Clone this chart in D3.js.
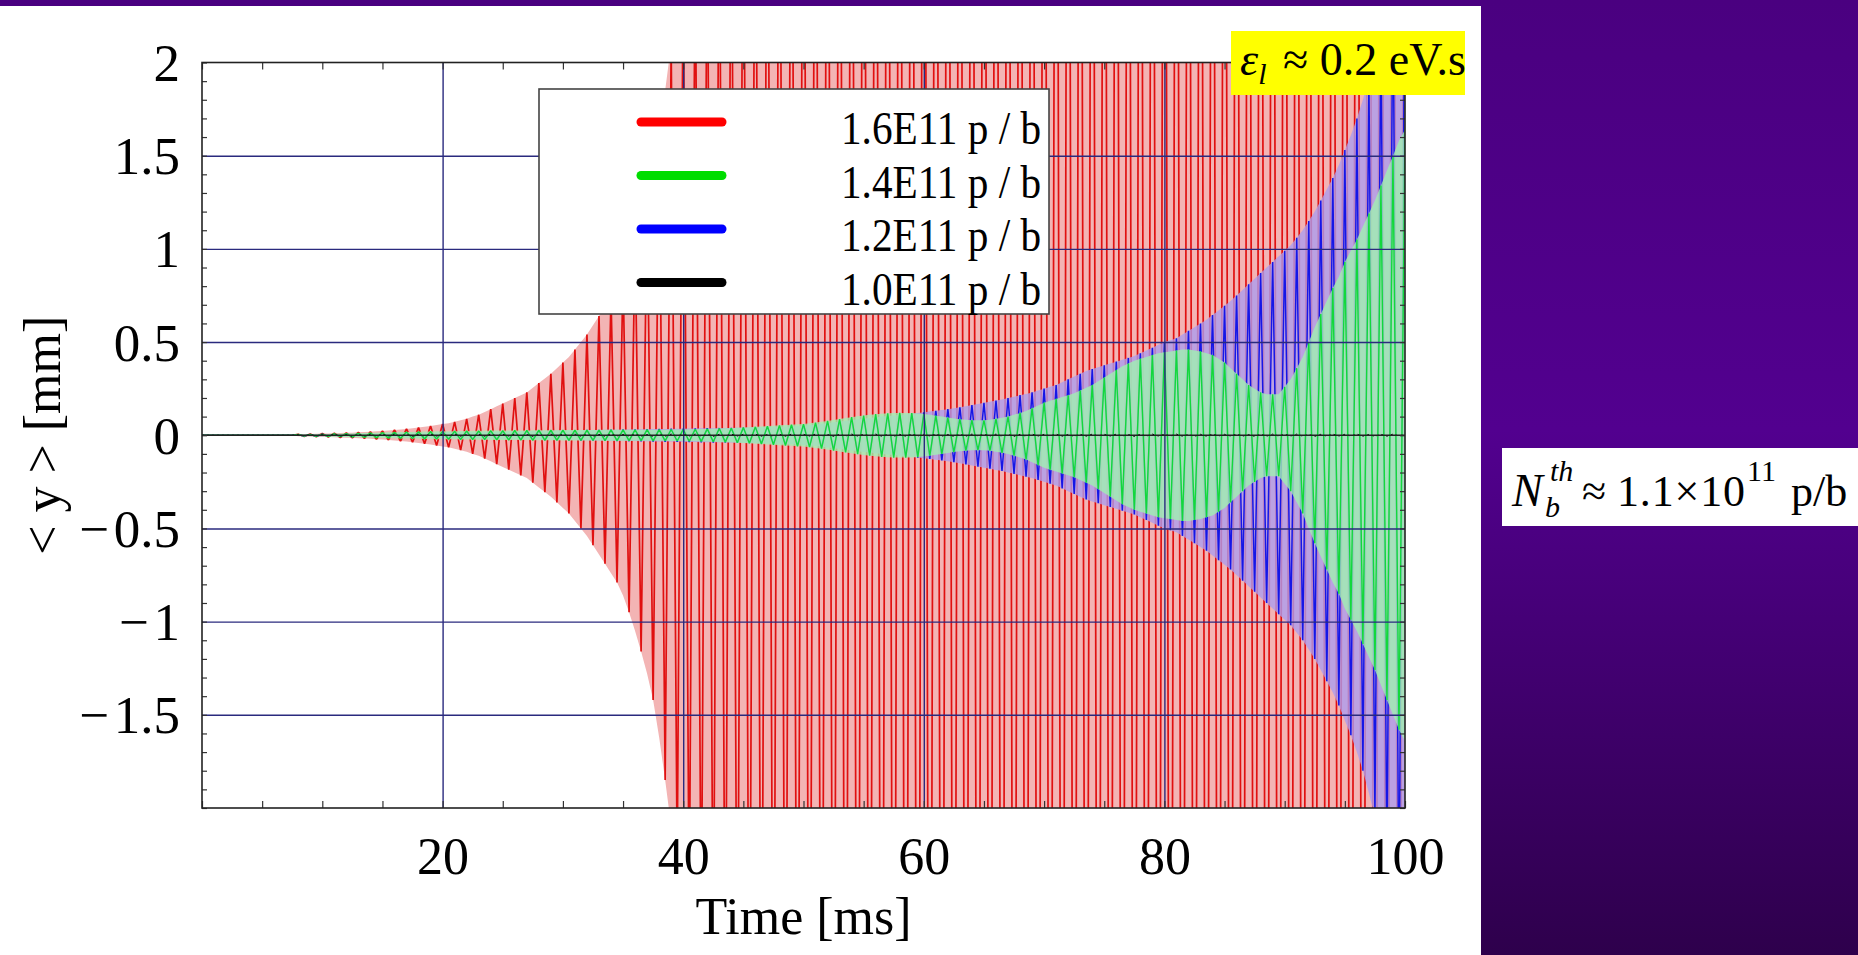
<!DOCTYPE html>
<html>
<head>
<meta charset="utf-8">
<script src="https://cdn.jsdelivr.net/npm/d3@7"></script>
<style>
  body { margin: 0; background: #fff; overflow: hidden; }
  text { font-family: "Liberation Serif", "Times New Roman", serif; fill: #000; }
</style>
</head>
<body>
<svg id="chart" width="1858" height="955"></svg>
<script>
// time between kept samples (ms)
const sampleStep = 0.5;

// <y> in mm, one value per sample (sign = side of the zero line)
const red16 = [
  0, 0, 0, 0, 0, 0, 0, 0, 0, 0,
  0, 0, 0, 0, 0, 0, 0.005, -0.006, 0.007, -0.008,
  0.009, -0.010, 0.011, -0.012, 0.013, -0.014, 0.016, -0.017, 0.019, -0.021,
  0.023, -0.025, 0.028, -0.031, 0.034, -0.037, 0.041, -0.045, 0.05, -0.055,
  0.06, -0.065, 0.072, -0.08, 0.088, -0.1, 0.11, -0.125, 0.14, -0.155,
  0.17, -0.185, 0.2, -0.215, 0.23, -0.255, 0.28, -0.305, 0.33, -0.36,
  0.39, -0.42, 0.46, -0.5, 0.54, -0.59, 0.64, -0.69, 0.74, -0.79,
  0.86, -0.95, 1.05, -1.16, 1.28, -1.42, 1.62, -1.85, 2.1, -2.3,
  2.5, -2.6, 2.7, -2.8, 2.9, -3.0, 3.1, -3.2, 3.3, -3.4,
  3.5, -3.6, 3.7, -3.8, 3.9, -4.0, 4.1, -4.2, 4.3, -4.4,
  4.5, -4.6, 4.7, -4.8, 4.9, -5.0, 5.1, -5.2, 5.3, -5.4,
  5.5, -5.6, 5.7, -5.8, 5.9, -6.0, 6.1, -6.2, 6.3, -6.4,
  6.5, -6.5, 6.5, -6.5, 6.5, -6.5, 6.5, -6.5, 6.5, -6.5,
  6.5, -6.5, 6.5, -6.5, 6.5, -6.5, 6.5, -6.5, 6.5, -6.5,
  6.5, -6.5, 6.5, -6.5, 6.5, -6.5, 6.5, -6.5, 6.5, -6.5,
  6.5, -6.5, 6.5, -6.5, 6.5, -6.5, 6.5, -6.5, 6.5, -6.5,
  6.5, -6.5, 6.5, -6.5, 6.5, -6.5, 6.5, -6.5, 6.5, -6.5,
  6.5, -6.5, 6.5, -6.5, 6.5, -6.5, 6.5, -6.5, 6.5, -6.5,
  6.5, -6.5, 6.5, -6.5, 6.5, -6.5, 6.5, -6.5, 6.5, -6.5,
  6.5, -6.5, 6.5, -6.5, 6.5, -6.5, 6.5, -6.5, 6.5, -6.5,
  6.5
];

const green14 = [
  0, 0, 0, 0, 0, 0, 0, 0, 0, 0,
  0, 0, 0, 0, 0, 0, 0.004, -0.005, 0.005, -0.006,
  0.006, -0.007, 0.008, -0.008, 0.009, -0.01, 0.011, -0.012, 0.013, -0.014,
  0.015, -0.016, 0.016, -0.017, 0.018, -0.018, 0.019, -0.02, 0.02, -0.021,
  0.021, -0.022, 0.022, -0.023, 0.023, -0.024, 0.024, -0.024, 0.025, -0.025,
  0.025, -0.026, 0.026, -0.026, 0.026, -0.027, 0.027, -0.027, 0.027, -0.027,
  0.028, -0.028, 0.028, -0.028, 0.028, -0.028, 0.028, -0.029, 0.029, -0.029,
  0.029, -0.029, 0.029, -0.029, 0.03, -0.03, 0.03, -0.03, 0.031, -0.031,
  0.031, -0.032, 0.032, -0.033, 0.034, -0.035, 0.036, -0.037, 0.038, -0.04,
  0.041, -0.043, 0.045, -0.047, 0.049, -0.051, 0.053, -0.055, 0.057, -0.059,
  0.06, -0.064, 0.068, -0.072, 0.077, -0.082, 0.087, -0.092, 0.097, -0.102,
  0.106, -0.11, 0.113, -0.116, 0.118, -0.12, 0.12, -0.12, 0.119, -0.117,
  0.114, -0.11, 0.105, -0.1, 0.095, -0.09, 0.086, -0.083, 0.081, -0.08,
  0.08, -0.083, 0.088, -0.094, 0.1, -0.11, 0.12, -0.13, 0.145, -0.16,
  0.175, -0.185, 0.195, -0.205, 0.215, -0.225, 0.24, -0.255, 0.27, -0.29,
  0.31, -0.33, 0.35, -0.37, 0.385, -0.4, 0.41, -0.42, 0.43, -0.44,
  0.445, -0.45, 0.455, -0.46, 0.46, -0.455, 0.45, -0.44, 0.43, -0.41,
  0.39, -0.36, 0.33, -0.3, 0.27, -0.25, 0.23, -0.22, 0.22, -0.22,
  0.26, -0.3, 0.36, -0.42, 0.5, -0.58, 0.65, -0.72, 0.79, -0.85,
  0.93, -0.99, 1.05, -1.12, 1.19, -1.26, 1.34, -1.42, 1.5, -1.58,
  1.64
];

const blue12 = [
  0, 0, 0, 0, 0, 0, 0, 0, 0, 0,
  0, 0, 0, 0, 0, 0, 0.003, -0.004, 0.004, -0.005,
  0.005, -0.006, 0.006, -0.007, 0.007, -0.008, 0.008, -0.009, 0.009, -0.01,
  0.01, -0.011, 0.011, -0.012, 0.012, -0.013, 0.013, -0.014, 0.014, -0.015,
  0.015, -0.016, 0.016, -0.017, 0.017, -0.018, 0.018, -0.019, 0.019, -0.02,
  0.02, -0.021, 0.021, -0.022, 0.022, -0.023, 0.023, -0.024, 0.024, -0.025,
  0.025, -0.026, 0.026, -0.027, 0.027, -0.028, 0.028, -0.029, 0.029, -0.03,
  0.03, -0.031, 0.031, -0.032, 0.032, -0.033, 0.033, -0.034, 0.034, -0.035,
  0.035, -0.036, 0.036, -0.037, 0.037, -0.038, 0.038, -0.039, 0.039, -0.04,
  0.04, -0.041, 0.042, -0.043, 0.044, -0.045, 0.046, -0.047, 0.048, -0.05,
  0.052, -0.055, 0.058, -0.062, 0.066, -0.07, 0.074, -0.078, 0.082, -0.086,
  0.09, -0.093, 0.096, -0.1, 0.103, -0.106, 0.11, -0.113, 0.116, -0.12,
  0.123, -0.127, 0.131, -0.135, 0.14, -0.145, 0.15, -0.156, 0.162, -0.168,
  0.174, -0.18, 0.186, -0.192, 0.2, -0.207, 0.215, -0.222, 0.23, -0.24,
  0.25, -0.26, 0.27, -0.285, 0.3, -0.315, 0.33, -0.345, 0.355, -0.365,
  0.375, -0.385, 0.395, -0.405, 0.415, -0.425, 0.44, -0.455, 0.47, -0.485,
  0.5, -0.51, 0.52, -0.54, 0.56, -0.58, 0.6, -0.62, 0.645, -0.67,
  0.695, -0.72, 0.75, -0.78, 0.81, -0.84, 0.87, -0.9, 0.93, -0.96,
  0.99, -1.02, 1.06, -1.1, 1.15, -1.2, 1.26, -1.32, 1.38, -1.45,
  1.53, -1.61, 1.7, -1.8, 1.92, -2.05, 2.2, -2.35, 2.5, -2.65,
  2.8
];

const black10 = [
  0, 0, 0, 0, 0, 0, 0, 0, 0, 0,
  0, 0, 0, 0, 0, 0, 0.003, -0.003, 0.004, -0.004,
  0.005, -0.004, 0.006, -0.005, 0.004, -0.006, 0.005, -0.005, 0.006, -0.004,
  0.005, -0.004, 0.006, -0.005, 0.004, -0.006, 0.005, -0.005, 0.006, -0.004,
  0.005, -0.004, 0.006, -0.005, 0.004, -0.006, 0.005, -0.005, 0.006, -0.004,
  0.005, -0.004, 0.006, -0.005, 0.004, -0.006, 0.005, -0.005, 0.006, -0.004,
  0.005, -0.004, 0.006, -0.005, 0.004, -0.006, 0.005, -0.005, 0.006, -0.004,
  0.005, -0.004, 0.006, -0.005, 0.004, -0.006, 0.005, -0.005, 0.006, -0.004,
  0.005, -0.004, 0.006, -0.005, 0.004, -0.006, 0.005, -0.005, 0.006, -0.004,
  0.005, -0.004, 0.006, -0.005, 0.004, -0.006, 0.005, -0.005, 0.006, -0.004,
  0.005, -0.004, 0.006, -0.005, 0.004, -0.006, 0.005, -0.005, 0.006, -0.004,
  0.005, -0.004, 0.006, -0.005, 0.004, -0.006, 0.005, -0.005, 0.006, -0.004,
  0.005, -0.004, 0.006, -0.005, 0.004, -0.006, 0.005, -0.005, 0.006, -0.004,
  0.005, -0.004, 0.006, -0.005, 0.004, -0.006, 0.005, -0.005, 0.006, -0.004,
  0.005, -0.004, 0.006, -0.005, 0.004, -0.006, 0.005, -0.005, 0.006, -0.004,
  0.005, -0.004, 0.006, -0.005, 0.004, -0.006, 0.005, -0.005, 0.006, -0.004,
  0.005, -0.004, 0.006, -0.005, 0.004, -0.006, 0.005, -0.005, 0.006, -0.004,
  0.005, -0.004, 0.006, -0.005, 0.004, -0.006, 0.005, -0.005, 0.006, -0.004,
  0.005, -0.004, 0.006, -0.005, 0.004, -0.006, 0.005, -0.005, 0.006, -0.004,
  0.005, -0.004, 0.006, -0.005, 0.004, -0.006, 0.005, -0.005, 0.006, -0.004,
  0.005
];

const seriesLabels = ['1.6E11 p / b', '1.4E11 p / b', '1.2E11 p / b', '1.0E11 p / b'];
const seriesColors = ['#ff0000', '#00dd00', '#0000ff', '#000000'];

const xTickValues = [20, 40, 60, 80, 100];
const yTickValues = [2, 1.5, 1, 0.5, 0, -0.5, -1, -1.5];
const yTickLabels = ['2', '1.5', '1', '0.5', '0', '\u2212\u200A0.5', '\u2212\u200A1', '\u2212\u200A1.5'];
const xGrid = [20, 40, 60, 80];
const yGrid = [1.5, 1, 0.5, -0.5, -1, -1.5];

const svg = d3.select('#chart');
const W = 1858, H = 955;
const plot = { left: 202, right: 1405, top: 62.5, bottom: 808 };
const panelRight = 1481;

// slide background
const defs = svg.append('defs');
const grad = defs.append('linearGradient').attr('id', 'purple').attr('x1', 0).attr('y1', 0).attr('x2', 0).attr('y2', 1);
grad.append('stop').attr('offset', '0%').attr('stop-color', '#4a0080');
grad.append('stop').attr('offset', '45%').attr('stop-color', '#52008f');
grad.append('stop').attr('offset', '100%').attr('stop-color', '#2e004c');

svg.append('rect').attr('width', W).attr('height', H).attr('fill', 'url(#purple)');
svg.append('rect').attr('x', 0).attr('y', 6).attr('width', panelRight).attr('height', H - 6).attr('fill', '#ffffff');

defs.append('clipPath').attr('id', 'plotClip')
  .append('rect')
  .attr('x', plot.left).attr('y', plot.top)
  .attr('width', plot.right - plot.left).attr('height', plot.bottom - plot.top);

const x = d3.scaleLinear().domain([0, 100]).range([plot.left, plot.right]);
const y = d3.scaleLinear().domain([-2, 2]).range([plot.bottom, plot.top]);

const line = d3.line()
  .x((d, i) => x(i * sampleStep))
  .y(d => y(d));

// the dense trace blurs into a pale band between its envelopes
const band = d3.area()
  .x((d, i) => x(i * sampleStep))
  .y0(d => y(-Math.abs(d)))
  .y1(d => y(Math.abs(d)));

const traces = [
  { data: red16, fill: '#f3b4b4', fillOpacity: 1, stroke: '#e01010', width: 1.7 },
  { data: blue12, fill: '#ad9cee', fillOpacity: 0.8, stroke: '#1616e6', width: 1.5 },
  { data: green14, fill: '#a0f0b2', fillOpacity: 0.8, stroke: '#12d83c', width: 1.4 },
];

const gData = svg.append('g').attr('clip-path', 'url(#plotClip)');
traces.forEach(t => {
  gData.append('path')
    .attr('d', band(t.data))
    .attr('fill', t.fill)
    .attr('fill-opacity', t.fillOpacity);
  gData.append('path')
    .attr('d', line(t.data))
    .attr('fill', 'none')
    .attr('stroke', t.stroke)
    .attr('stroke-width', t.width)
    .attr('stroke-linejoin', 'bevel');
});

// grid
const gGrid = svg.append('g');
gGrid.append('g')
  .attr('transform', `translate(0,${plot.bottom})`)
  .call(d3.axisBottom(x).tickValues(xGrid).tickSize(-(plot.bottom - plot.top)).tickFormat(''))
  .call(g => g.select('.domain').remove())
  .selectAll('line').attr('stroke', '#2a2a7e').attr('stroke-width', 1.4);
gGrid.append('g')
  .attr('transform', `translate(${plot.left},0)`)
  .call(d3.axisLeft(y).tickValues(yGrid).tickSize(-(plot.right - plot.left)).tickFormat(''))
  .call(g => g.select('.domain').remove())
  .selectAll('line').attr('stroke', '#2a2a7e').attr('stroke-width', 1.4);

// zero axis + the stable trace
svg.append('line')
  .attr('x1', plot.left).attr('x2', plot.right)
  .attr('y1', y(0)).attr('y2', y(0))
  .attr('stroke', '#222').attr('stroke-width', 1.4);
gData.append('path')
  .attr('d', line(black10))
  .attr('fill', 'none')
  .attr('stroke', '#000')
  .attr('stroke-width', 1)
  .attr('stroke-dasharray', '2,3');

// frame + minor ticks
const tickStyle = g => {
  g.select('.domain').remove();
  g.selectAll('line').attr('stroke', '#333').attr('stroke-width', 1.2);
};
svg.append('g').attr('transform', `translate(0,${plot.bottom})`)
  .call(d3.axisBottom(x).tickValues(x.ticks(20)).tickSize(-7).tickFormat('')).call(tickStyle);
svg.append('g').attr('transform', `translate(0,${plot.top})`)
  .call(d3.axisTop(x).tickValues(x.ticks(20)).tickSize(-7).tickFormat('')).call(tickStyle);
svg.append('g').attr('transform', `translate(${plot.left},0)`)
  .call(d3.axisLeft(y).tickValues(y.ticks(40)).tickSize(-5).tickFormat('')).call(tickStyle);
svg.append('g').attr('transform', `translate(${plot.right},0)`)
  .call(d3.axisRight(y).tickValues(y.ticks(40)).tickSize(-5).tickFormat('')).call(tickStyle);

svg.append('rect')
  .attr('x', plot.left).attr('y', plot.top)
  .attr('width', plot.right - plot.left).attr('height', plot.bottom - plot.top)
  .attr('fill', 'none').attr('stroke', '#222').attr('stroke-width', 1.6);

// tick labels
const yLab = svg.append('g').attr('transform', `translate(${plot.left},0)`)
  .call(d3.axisLeft(y).tickValues(yTickValues).tickSize(0).tickPadding(22)
    .tickFormat(d => yTickLabels[yTickValues.indexOf(d)]));
yLab.select('.domain').remove();
yLab.selectAll('text')
  .attr('font-family', '"Liberation Serif", "Times New Roman", serif')
  .attr('font-size', 53).attr('fill', '#000').attr('dy', '0.34em');

const xLab = svg.append('g').attr('transform', `translate(0,${plot.bottom})`)
  .call(d3.axisBottom(x).tickValues(xTickValues).tickSize(0).tickPadding(0).tickFormat(d3.format('d')));
xLab.select('.domain').remove();
xLab.selectAll('text')
  .attr('font-family', '"Liberation Serif", "Times New Roman", serif')
  .attr('font-size', 52).attr('fill', '#000').attr('dy', null).attr('y', 66);

// axis titles
svg.append('text')
  .attr('x', (plot.left + plot.right) / 2).attr('y', 934)
  .attr('text-anchor', 'middle').attr('font-size', 52)
  .text('Time [ms]');
svg.append('text')
  .attr('transform', `translate(60,${y(0)}) rotate(-90)`)
  .attr('text-anchor', 'middle').attr('font-size', 52)
  .text('< y >  [mm]');

// legend
const legend = svg.append('g');
legend.append('rect')
  .attr('x', 539).attr('y', 89).attr('width', 510).attr('height', 225)
  .attr('fill', '#fff').attr('stroke', '#444').attr('stroke-width', 1.6);
seriesLabels.forEach((lab, i) => {
  const ly = 122 + i * 53.5;
  legend.append('line')
    .attr('x1', 641).attr('x2', 722).attr('y1', ly).attr('y2', ly)
    .attr('stroke', seriesColors[i]).attr('stroke-width', 9).attr('stroke-linecap', 'round');
  legend.append('text')
    .attr('x', 1041).attr('y', ly + 22)
    .attr('text-anchor', 'end').attr('font-size', 46)
    .attr('textLength', 200).attr('lengthAdjust', 'spacingAndGlyphs')
    .text(lab);
});

// emittance tag
svg.append('rect').attr('x', 1231).attr('y', 31).attr('width', 234).attr('height', 64).attr('fill', '#ffff00');
const eps = svg.append('text').attr('y', 75).attr('font-size', 46);
eps.append('tspan').attr('x', 1240).attr('font-style', 'italic').text('\u03B5');
eps.append('tspan').attr('font-style', 'italic').attr('font-size', 30).attr('dy', 9).text('l');
eps.append('tspan').attr('x', 1283).attr('y', 75).text('\u2248 0.2 eV.s');

// threshold box on the purple side
svg.append('rect').attr('x', 1502).attr('y', 448).attr('width', 356).attr('height', 78).attr('fill', '#fff');
const nth = svg.append('g');
nth.append('text').attr('x', 1512).attr('y', 506).attr('font-style', 'italic').attr('font-size', 46).text('N');
nth.append('text').attr('x', 1545).attr('y', 517).attr('font-style', 'italic').attr('font-size', 30).text('b');
nth.append('text').attr('x', 1550).attr('y', 481).attr('font-style', 'italic').attr('font-size', 30).text('th');
nth.append('text').attr('x', 1582).attr('y', 506).attr('font-size', 44).text('\u2248');
nth.append('text').attr('x', 1617).attr('y', 506).attr('font-size', 44).attr('textLength', 128).text('1.1\u00D710');
nth.append('text').attr('x', 1747).attr('y', 481).attr('font-size', 30).text('11');
nth.append('text').attr('x', 1791).attr('y', 506).attr('font-size', 44).text('p/b');
</script>
</body>
</html>
